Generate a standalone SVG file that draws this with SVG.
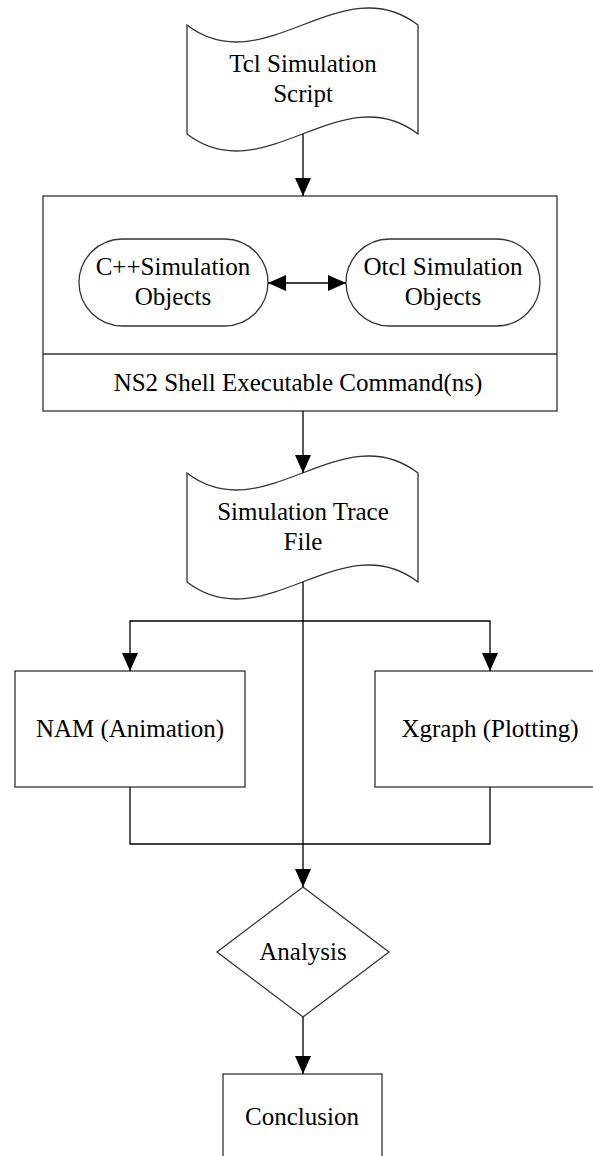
<svg xmlns="http://www.w3.org/2000/svg" width="593" height="1156" viewBox="0 0 593 1156">
  <style>
    .shape { fill: #ffffff; stroke: #333333; stroke-width: 1.3; }
    .wire { fill: none; stroke: #000000; stroke-width: 1.3; }
    .label { font-size: 25px; fill: #000000; text-anchor: middle; }
  </style>
  <defs>
    <marker id="arrow" viewBox="0 0 18 16" refX="18" refY="8" markerWidth="18" markerHeight="16" markerUnits="userSpaceOnUse" orient="auto">
      <path d="M0,0 L18,8 L0,16 Z" fill="#000000"/>
    </marker>
    <marker id="arrowStart" viewBox="0 0 18 16" refX="0" refY="8" markerWidth="18" markerHeight="16" markerUnits="userSpaceOnUse" orient="auto">
      <path d="M18,0 L0,8 L18,16 Z" fill="#000000"/>
    </marker>
  </defs>

  <rect width="593" height="1156" fill="#ffffff"/>

  <g font-family="'Liberation Serif', 'DejaVu Serif', serif">
    <!-- Tcl script (punched tape) -->
    <g id="tcl-script">
      <path class="shape" d="M187,25 C264,84 341,-34 418,25 L418,134 C341,75 264,193 187,134 Z"/>
      <text class="label" x="303" y="72">Tcl Simulation</text>
      <text class="label" x="303" y="102">Script</text>
    </g>

    <!-- NS2 container -->
    <g id="ns2-shell">
      <rect class="shape" x="43" y="196" width="514" height="215"/>
      <line class="shape" x1="43" y1="354" x2="557" y2="354"/>
      <text class="label" x="298" y="391">NS2 Shell Executable Command(ns)</text>
    </g>

    <g id="cpp-objects">
      <rect class="shape" x="79" y="239" width="189" height="87" rx="43.5" ry="43.5"/>
      <text class="label" x="173" y="275">C++Simulation</text>
      <text class="label" x="173" y="305">Objects</text>
    </g>

    <g id="otcl-objects">
      <rect class="shape" x="346" y="239" width="194" height="87" rx="43.5" ry="43.5"/>
      <text class="label" x="443" y="275">Otcl Simulation</text>
      <text class="label" x="443" y="305">Objects</text>
    </g>

    <!-- Trace file (punched tape) -->
    <g id="trace-file">
      <path class="shape" d="M187,473 C264,532 341,414 418,473 L418,582 C341,523 264,641 187,582 Z"/>
      <text class="label" x="303" y="520">Simulation Trace</text>
      <text class="label" x="303" y="550">File</text>
    </g>

    <g id="nam">
      <rect class="shape" x="15" y="671" width="230" height="116"/>
      <text class="label" x="130" y="737">NAM (Animation)</text>
    </g>

    <g id="xgraph">
      <rect class="shape" x="375" y="671" width="230" height="116"/>
      <text class="label" x="490" y="737">Xgraph (Plotting)</text>
    </g>

    <g id="analysis">
      <polygon class="shape" points="303,887 389,952 303,1017 217,952"/>
      <text class="label" x="303" y="960">Analysis</text>
    </g>

    <g id="conclusion">
      <rect class="shape" x="223" y="1074" width="159" height="100"/>
      <text class="label" x="302" y="1125">Conclusion</text>
    </g>
  </g>

  <!-- Connectors -->
  <g id="connectors">
    <line class="wire" x1="303" y1="134" x2="303" y2="196" marker-end="url(#arrow)"/>
    <line class="wire" x1="268" y1="283" x2="346" y2="283" marker-start="url(#arrowStart)" marker-end="url(#arrow)"/>
    <line class="wire" x1="303" y1="411" x2="303" y2="473" marker-end="url(#arrow)"/>
    <line class="wire" x1="303" y1="582" x2="303" y2="887" marker-end="url(#arrow)"/>
    <polyline class="wire" points="130,671 130,621 490,621 490,671" marker-start="url(#arrowStart)" marker-end="url(#arrow)"/>
    <polyline class="wire" points="130,787 130,844 490,844 490,787"/>
    <line class="wire" x1="303" y1="1017" x2="303" y2="1074" marker-end="url(#arrow)"/>
  </g>
</svg>
